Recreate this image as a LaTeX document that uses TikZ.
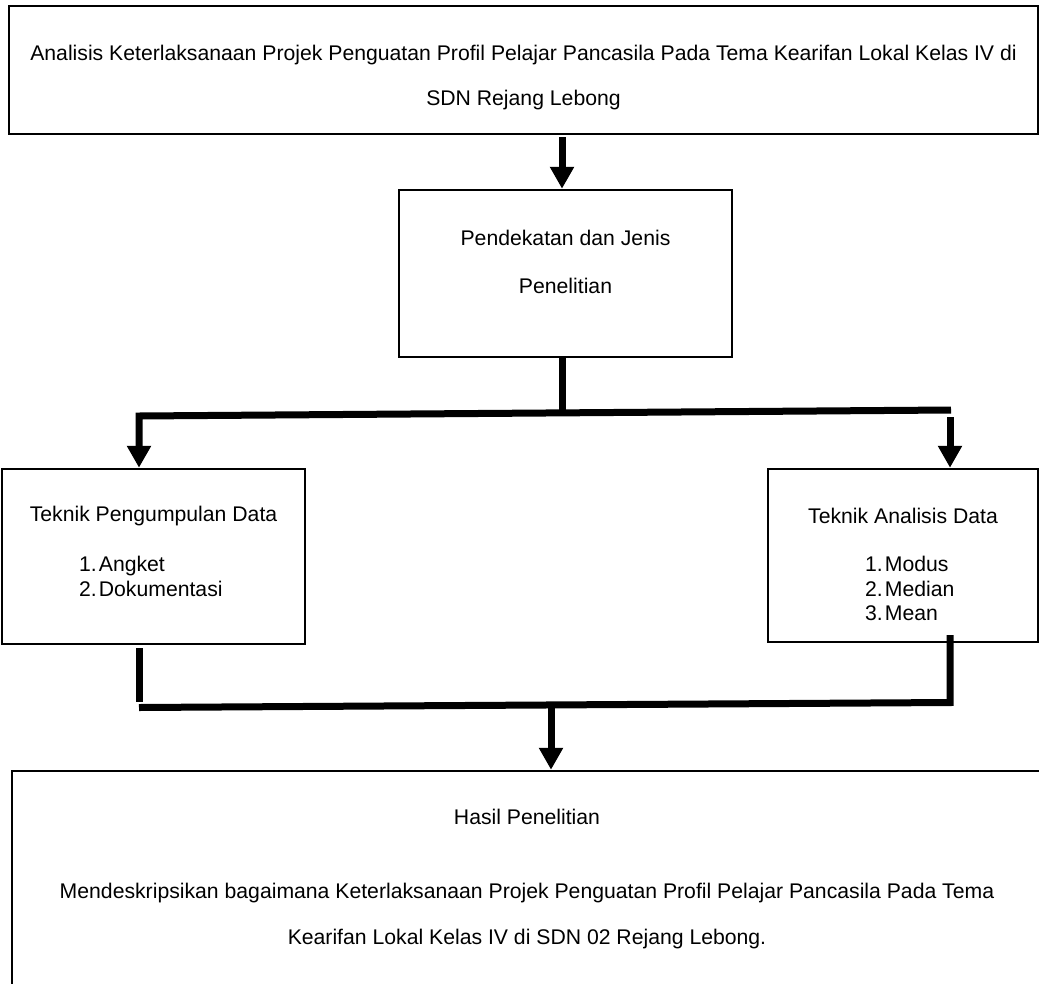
\documentclass[tikz,border=0pt]{standalone}
\usepackage{fontspec}
\setmainfont{Liberation Sans}
\usetikzlibrary{arrows.meta}
\begin{document}
\begin{tikzpicture}[x=1pt,y=-1pt,
  box/.style={draw, line width=2.5pt, inner sep=0pt, rectangle},
  conn/.style={line width=7pt},
  arr/.style={line width=7pt, -{Triangle[width=23pt,length=22pt]}},
  txt/.style={font=\fontsize{21.2}{24.5}\selectfont, inner sep=0pt, align=center},
]
\clip (0,0) rectangle (1039,983);
\fill[white] (0,0) rectangle (1039,983);

% boxes
\node[box, minimum width=1029pt, minimum height=128pt] (top) at (523.5,70) {};
\node[box, minimum width=333pt, minimum height=167pt] (mid) at (565.5,273.5) {};
\node[box, minimum width=303pt, minimum height=175pt] (left) at (153.5,556.5) {};
\node[box, minimum width=270pt, minimum height=173pt] (right) at (903,555.5) {};
\node[box, minimum width=1030pt, minimum height=230pt] (bottom) at (527,886) {};

% texts
\node[txt, font=\fontsize{21.2}{45}\selectfont] (toptxt) at (523.5,77.5)
  {Analisis Keterlaksanaan Projek Penguatan Profil Pelajar Pancasila Pada Tema Kearifan Lokal Kelas IV di\\SDN Rejang Lebong};
\node[txt, font=\fontsize{21.2}{48}\selectfont] (midtxt) at (565.5,261.5)
  {Pendekatan dan Jenis\\Penelitian};
\node[txt] (lefttitle) at (153.5,516) {Teknik Pengumpulan Data};
\node[txt, anchor=west] (leftlist) at (79,579)
  {\begin{tabular}{@{}l@{\hspace{2pt}}l@{}}1.&Angket\\2.&Dokumentasi\end{tabular}};
\node[txt] (righttitle) at (903,516) {Teknik Analisis Data};
\node[txt, anchor=west] (rightlist) at (865,591.5)
  {\begin{tabular}{@{}l@{\hspace{2pt}}l@{}}1.&Modus\\2.&Median\\3.&Mean\end{tabular}};
\node[txt] (hasil) at (527,817) {Hasil Penelitian};
\node[txt, font=\fontsize{21.2}{46}\selectfont] (desc) at (527,916)
  {Mendeskripsikan bagaimana Keterlaksanaan Projek Penguatan Profil Pelajar Pancasila Pada Tema\\Kearifan Lokal Kelas IV di SDN 02 Rejang Lebong.};

% coordinates
\coordinate (a1) at (562,137);
\coordinate (m1) at (562,413);
\coordinate (hl) at (139,416);
\coordinate (hr) at (951,410);
\coordinate (ra) at (950,417);
\coordinate (lv1) at (139,648);
\coordinate (lv2) at (139,702);
\coordinate (rv) at (950,635);
\coordinate (br) at (950,702.5);
\coordinate (bl) at (139,707.5);
\coordinate (ba) at (551,705);

% connectors
\draw[arr] (a1) -- (mid.north -| a1);
\draw[conn] (mid.south -| m1) -- (m1);
\draw[arr] (hr) -- (hl) -- (left.north -| hl);
\draw[arr] (ra) -- (right.north -| ra);
\draw[conn] (lv1) -- (lv2);
\draw[conn] (rv) -- (br) -- (bl);
\draw[arr] (ba) -- (bottom.north -| ba);
\end{tikzpicture}
\end{document}
